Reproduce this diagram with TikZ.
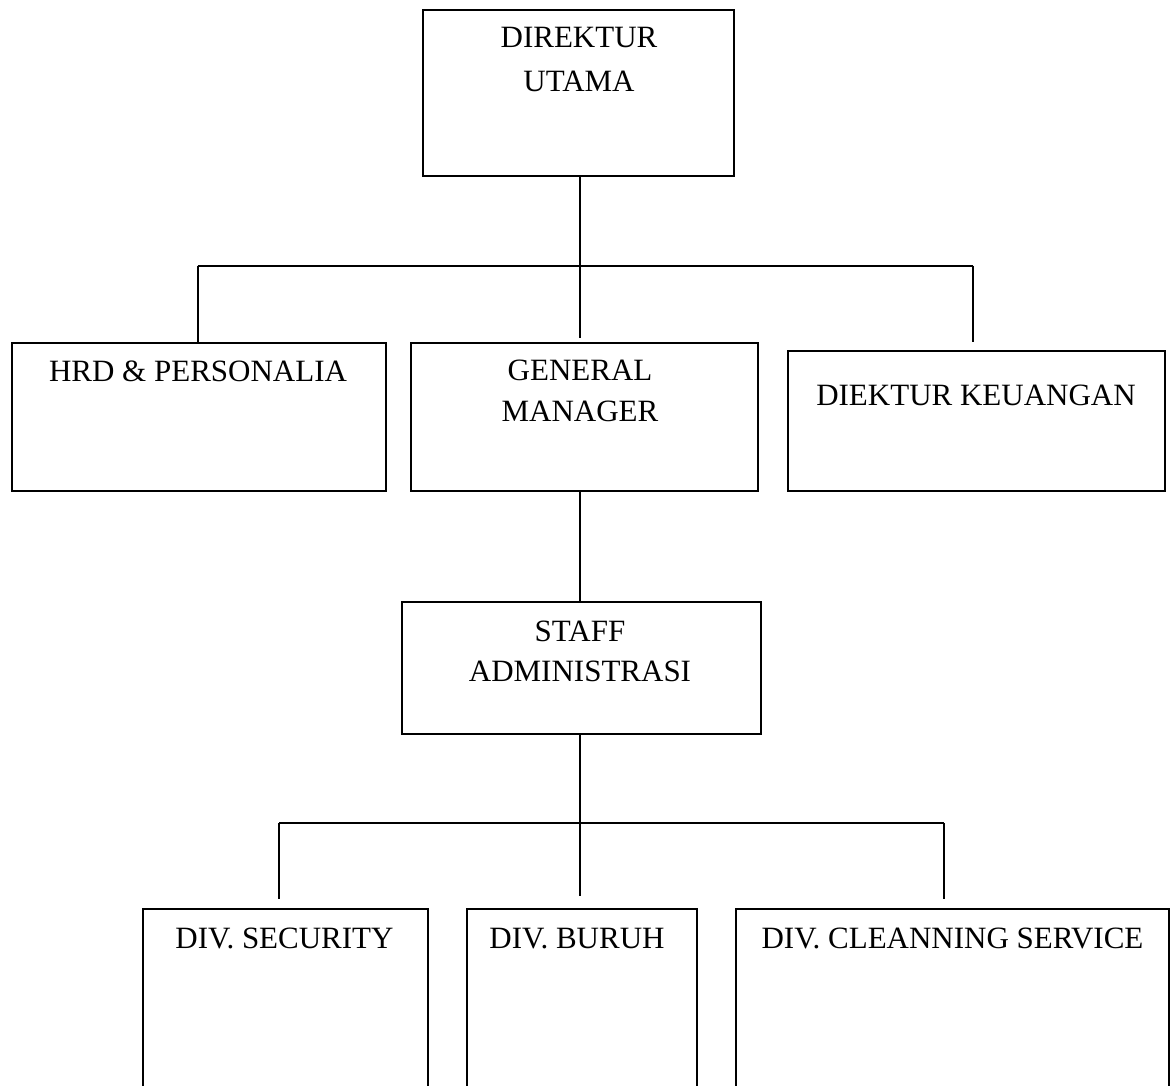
\documentclass[tikz,border=0pt]{standalone}
\usepackage{fontspec}
\setmainfont{Liberation Serif}
\begin{document}
\begin{tikzpicture}[x=1pt,y=-1pt,
  box/.style={draw=black,line width=2pt,fill=none,inner sep=0pt,outer sep=0pt},
  lbl/.style={anchor=base,inner sep=0pt,font=\fontsize{31}{36}\selectfont},
  wire/.style={draw=black,line width=2pt}]
\useasboundingbox (0,0) rectangle (1173,1086);
\fill[white] (0,0) rectangle (1173,1086);
\clip (0,0) rectangle (1173,1086);

% top level
\node[box,minimum width=311,minimum height=166] (du) at (578.8,93) {};
\node[lbl] (du1) at (579,48) {DIREKTUR};
\node[lbl] (du2) at (579,92) {UTAMA};

% second level
\node[box,minimum width=373.4,minimum height=148] (hrd) at (199,416.7) {};
\node[lbl] (hrd1) at (198,381) {HRD \& PERSONALIA};
\node[box,minimum width=346.7,minimum height=148] (gm) at (584.3,416.7) {};
\node[lbl] (gm1) at (580,380) {GENERAL};
\node[lbl] (gm2) at (580,421.7) {MANAGER};
\node[box,minimum width=376.7,minimum height=140] (dk) at (976.7,420.7) {};
\node[lbl] (dk1) at (976,405.7) {DIEKTUR KEUANGAN};

% third level
\node[box,minimum width=359.3,minimum height=132.3] (sa) at (581.3,667.8) {};
\node[lbl] (sa1) at (580,641) {STAFF};
\node[lbl] (sa2) at (580,681.7) {ADMINISTRASI};

% divisions (boxes run past the lower edge)
\node[box,minimum width=285.5,minimum height=220] (sec) at (285.3,1019) {};
\node[lbl] (sec1) at (284.5,948.3) {DIV. SECURITY};
\node[box,minimum width=230.3,minimum height=220] (bur) at (582.2,1019) {};
\node[lbl] (bur1) at (577,948.3) {DIV. BURUH};
\node[box,minimum width=433.6,minimum height=220] (cln) at (952.5,1019) {};
\node[lbl] (cln1) at (952.5,948.3) {DIV. CLEANNING SERVICE};

% junction points
\coordinate (j1) at (580,265.7);
\coordinate (j1l) at (197.7,265.7);
\coordinate (j1r) at (973.3,265.7);
\coordinate (e1m) at (580,338);
\coordinate (e1r) at (973.3,342.3);
\coordinate (j2) at (580,823.3);
\coordinate (j2l) at (279.3,823.3);
\coordinate (j2r) at (944.3,823.3);
\coordinate (e2l) at (279.3,899.3);
\coordinate (e2m) at (580,896);
\coordinate (e2r) at (944.3,899.3);

% connectors
\draw[wire] (du.south -| j1) -- (j1);
\draw[wire] (j1l) -- (j1r);
\draw[wire] (j1l) -- (j1l |- hrd.north);
\draw[wire] (j1) -- (e1m);
\draw[wire] (j1r) -- (e1r);
\draw[wire] (gm.south -| j1) -- (sa.north -| j1);
\draw[wire] (sa.south -| j2) -- (j2);
\draw[wire] (j2l) -- (j2r);
\draw[wire] (j2l) -- (e2l);
\draw[wire] (j2) -- (e2m);
\draw[wire] (j2r) -- (e2r);
\end{tikzpicture}
\end{document}
